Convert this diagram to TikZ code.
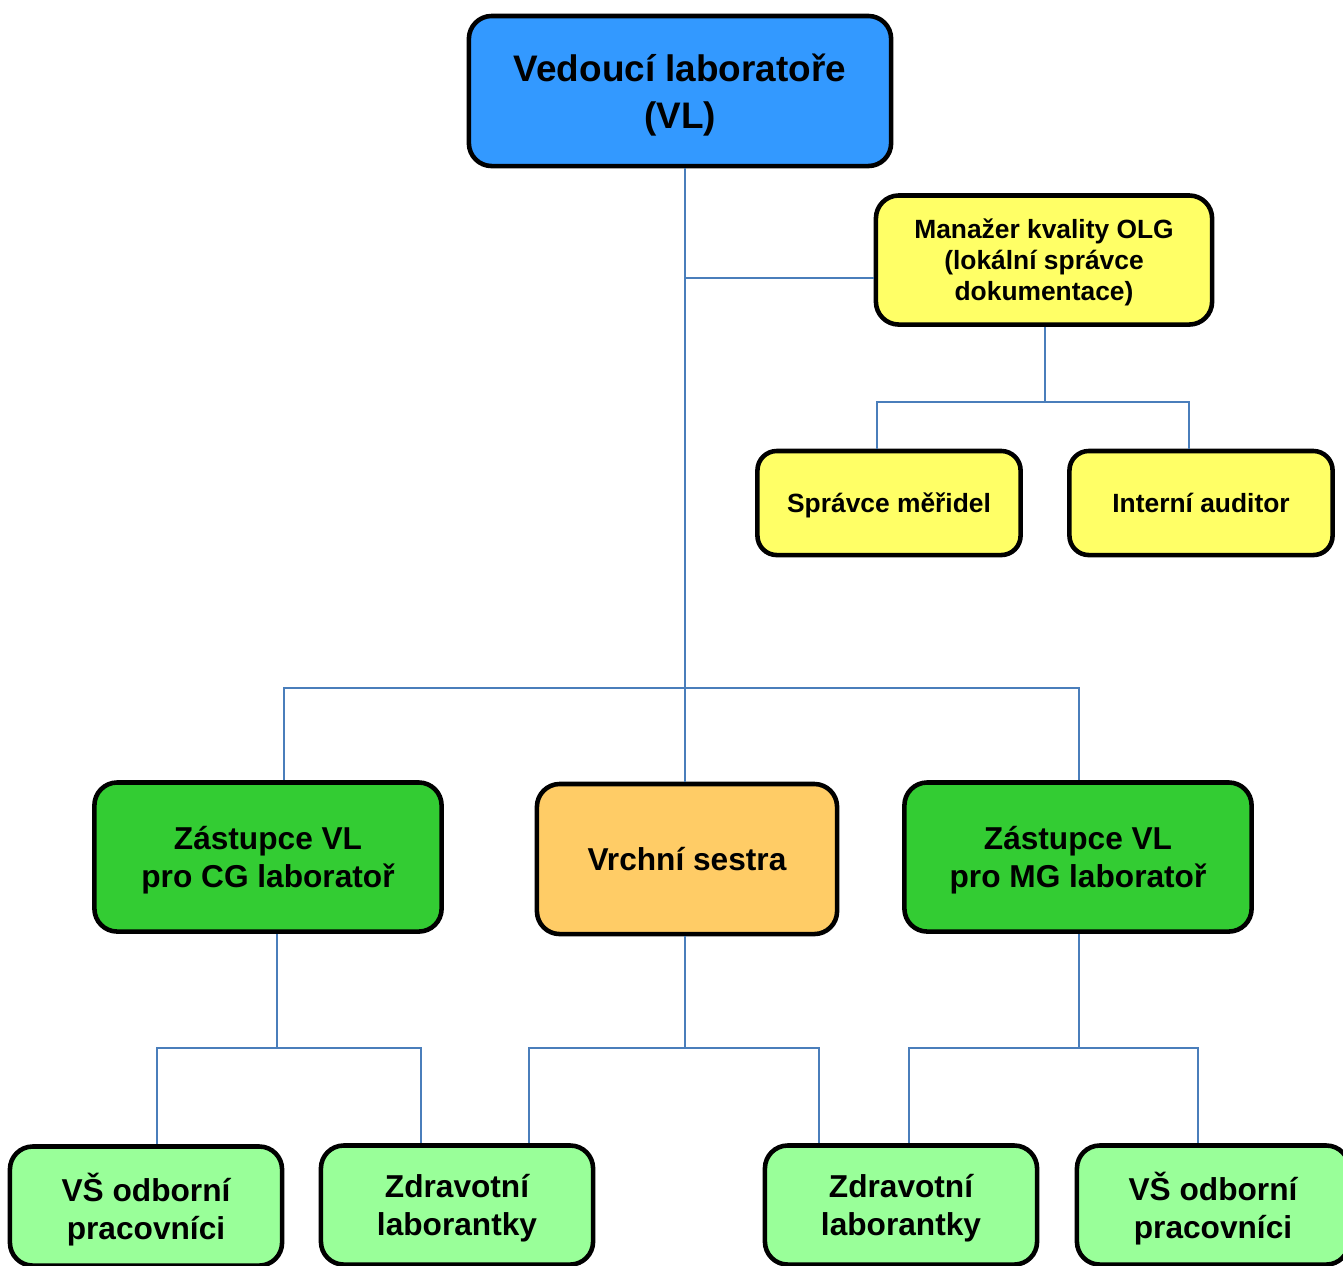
\documentclass[tikz,border=0pt]{standalone}
\usepackage{fontspec}
\setmainfont{Liberation Sans}
\usetikzlibrary{calc}

\definecolor{vlblue}{HTML}{3399FF}
\definecolor{qyellow}{HTML}{FFFF66}
\definecolor{zgreen}{HTML}{33CC33}
\definecolor{sorange}{HTML}{FFCC66}
\definecolor{lgreen}{HTML}{99FF99}
\definecolor{linkblue}{HTML}{4A7EBB}

\begin{document}
\begin{tikzpicture}[x=0.01cm,y=-0.01cm,
    box/.style={draw=black,line width=1.3pt,rounded corners=6.5pt,align=center,inner sep=0pt,text depth=0pt},
    fbig/.style={font=\bfseries\fontsize{10.5}{13.3}\selectfont},
    fsmall/.style={font=\bfseries\fontsize{7.5}{8.8}\selectfont},
    fmid/.style={font=\bfseries\fontsize{9}{10.9}\selectfont},
    conn/.style={draw=linkblue,line width=0.6pt}]
    \useasboundingbox (0,0) rectangle (1343,1265);

    \node[box,fbig,fill=vlblue,minimum width=4.22cm,minimum height=1.50cm] (vl) at (680,91) {Vedoucí laboratoře\\(VL)};
    \node[box,fsmall,fill=qyellow,minimum width=3.36cm,minimum height=1.29cm] (mk) at (1044,260) {Manažer kvality OLG\\(lokální správce\\dokumentace)};
    \node[box,fsmall,fill=qyellow,minimum width=2.63cm,minimum height=1.04cm,rounded corners=5.5pt] (sm) at (889,503) {Správce měřidel};
    \node[box,fsmall,fill=qyellow,minimum width=2.63cm,minimum height=1.04cm,rounded corners=5.5pt] (ia) at (1201,503) {Interní auditor};

    \node[box,fmid,fill=zgreen,minimum width=3.47cm,minimum height=1.49cm] (zcg) at (268,857) {Zástupce VL\\pro CG laboratoř};
    \node[box,fmid,fill=sorange,minimum width=3.00cm,minimum height=1.50cm] (vs) at (687,859) {Vrchní sestra};
    \node[box,fmid,fill=zgreen,minimum width=3.47cm,minimum height=1.49cm] (zmg) at (1078,857) {Zástupce VL\\pro MG laboratoř};

    \node[box,fmid,fill=lgreen,minimum width=2.72cm,minimum height=1.19cm] (vs1) at (146,1206) {VŠ odborní\\pracovníci};
    \node[box,fmid,fill=lgreen,minimum width=2.72cm,minimum height=1.19cm] (zl1) at (457,1205) {Zdravotní\\laborantky};
    \node[box,fmid,fill=lgreen,minimum width=2.72cm,minimum height=1.19cm] (zl2) at (901,1205) {Zdravotní\\laborantky};
    \node[box,fmid,fill=lgreen,minimum width=2.72cm,minimum height=1.19cm] (vs2) at (1213,1205) {VŠ odborní\\pracovníci};

    \coordinate (j1) at (685,278);
    \coordinate (j2) at (685,688);
    \draw[conn] (vl.south -| j1) -- (j2) -- (j2 |- vs.north);
    \draw[conn] (j1) -- (j1 -| mk.west);

    \coordinate (j3) at (1045,402);
    \coordinate (a1) at (877,402);
    \coordinate (a2) at (1189,402);
    \draw[conn] (mk.south -| j3) -- (j3);
    \draw[conn] (a1 |- sm.north) -- (a1) -- (a2) -- (a2 |- ia.north);

    \coordinate (b1) at (284,688);
    \coordinate (b2) at (1079,688);
    \draw[conn] (b1 |- zcg.north) -- (b1) -- (b2) -- (b2 |- zmg.north);

    \coordinate (c0) at (277,1048);
    \coordinate (c1) at (157,1048);
    \coordinate (c2) at (421,1048);
    \draw[conn] (zcg.south -| c0) -- (c0);
    \draw[conn] (c1 |- vs1.north) -- (c1) -- (c2) -- (c2 |- zl1.north);

    \coordinate (d0) at (685,1048);
    \coordinate (d1) at (529,1048);
    \coordinate (d2) at (819,1048);
    \draw[conn] (vs.south -| d0) -- (d0);
    \draw[conn] (d1 |- zl1.north) -- (d1) -- (d2) -- (d2 |- zl2.north);

    \coordinate (e0) at (1079,1048);
    \coordinate (e1) at (909,1048);
    \coordinate (e2) at (1198,1048);
    \draw[conn] (zmg.south -| e0) -- (e0);
    \draw[conn] (e1 |- zl2.north) -- (e1) -- (e2) -- (e2 |- vs2.north);
\end{tikzpicture}
\end{document}
